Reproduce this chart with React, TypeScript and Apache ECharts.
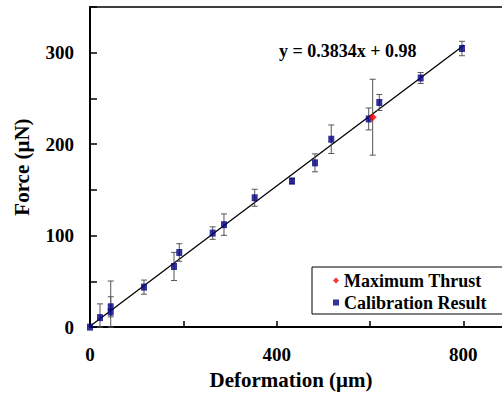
import React, { useEffect, useRef } from "react";
import * as echarts from "echarts";

// Calibration result points (Deformation µm, Force µN, error ±µN)
const calibX = [0, 21.4, 44.4, 44.4, 115.7, 180, 191.3, 262.9, 287.1, 352.9, 432.8, 482.1, 517, 597.2, 619.9, 708.6, 797.1];
const calibY = [0, 10.4, 22.2, 16.4, 43.7, 66.3, 81.6, 102.8, 112, 141.4, 159.7, 179.6, 205.4, 227.6, 245.6, 272.4, 304.6];
const calibErr = [0, 15, 11, 34, 7.7, 15.4, 9.6, 6.8, 11.7, 9.3, 3, 9.8, 15.6, 12, 8.8, 6, 7.9];

// Maximum thrust point
const thrustX = [605.7];
const thrustY = [229.5];
const thrustErr = [41.5];

// Fitted line endpoints (y = 0.3834x + 0.98)
const fitX = [0, 802];
const fitY = [0.98, 308.5];

const equationText = "y = 0.3834x + 0.98";

const FONT = "Liberation Serif, Times New Roman, serif";

export default function App() {
  const ref = useRef<HTMLDivElement>(null);

  useEffect(() => {
    if (!ref.current) return;
    const chart = echarts.init(ref.current, null, { renderer: "svg" });

    const errData: number[][] = [];
    calibX.forEach((x, i) => {
      if (calibErr[i] > 0) errData.push([x, Math.max(0, calibY[i] - calibErr[i]), calibY[i] + calibErr[i]]);
    });
    thrustX.forEach((x, i) => {
      errData.push([x, Math.max(0, thrustY[i] - thrustErr[i]), thrustY[i] + thrustErr[i]]);
    });

    chart.setOption({
      animation: false,
      backgroundColor: "#fff",
      textStyle: { fontFamily: FONT },
      grid: { left: 90, top: 7, height: 326, right: 10 },
      xAxis: [
        {
          type: "value",
          min: 0,
          max: 900,
          interval: 200,
          position: "bottom",
          name: "Deformation (μm)",
          nameLocation: "middle",
          nameGap: 38,
          nameTextStyle: {
            fontFamily: FONT,
            fontWeight: "bold",
            fontSize: 21,
            color: "#000",
            padding: [0, 18, 0, 0],
          },
          axisLine: { show: true, lineStyle: { color: "#000", width: 2 } },
          axisTick: { show: true, inside: true, length: 6, lineStyle: { color: "#000", width: 1.5 } },
          axisLabel: {
            fontFamily: FONT,
            fontWeight: "bold",
            fontSize: 19,
            color: "#000",
            margin: 18,
            formatter: (v: number) => (v % 400 === 0 ? String(v) : ""),
          },
          splitLine: { show: false },
        },
        {
          type: "value",
          min: 0,
          max: 900,
          position: "top",
          axisLine: { show: true, lineStyle: { color: "#000", width: 1.5 } },
          axisTick: { show: false },
          axisLabel: { show: false },
          splitLine: { show: false },
        },
      ],
      yAxis: {
        type: "value",
        min: 0,
        max: 350,
        interval: 50,
        name: "Force (μN)",
        nameLocation: "middle",
        nameGap: 58,
        nameTextStyle: {
          fontFamily: FONT,
          fontWeight: "bold",
          fontSize: 21,
          color: "#000",
        },
        axisLine: { show: true, lineStyle: { color: "#000", width: 2 } },
        axisTick: { show: true, inside: true, length: 7, lineStyle: { color: "#000", width: 1.5 } },
        axisLabel: {
          fontFamily: FONT,
          fontWeight: "bold",
          fontSize: 19,
          color: "#000",
          margin: 16,
          formatter: (v: number) => (v % 100 === 0 ? String(v) : ""),
        },
        splitLine: { show: false },
      },
      legend: {
        orient: "vertical",
        left: 312,
        top: 267,
        padding: [4, 16, 2, 21],
        itemGap: 3,
        itemWidth: 6,
        itemHeight: 6,
        borderColor: "#000",
        borderWidth: 1,
        backgroundColor: "#fff",
        textStyle: {
          fontFamily: FONT,
          fontWeight: "bold",
          fontSize: 18,
          lineHeight: 19,
          color: "#000",
        },
        data: [
          { name: "Maximum Thrust", icon: "diamond" },
          { name: "Calibration Result", icon: "rect" },
        ],
      },
      graphic: [
        {
          type: "text",
          left: 279,
          top: 42,
          style: {
            text: equationText,
            fontFamily: FONT,
            fontWeight: "bold",
            fontSize: 18,
            fill: "#000",
          },
        },
      ],
      series: [
        {
          type: "line",
          data: fitX.map((x, i) => [x, fitY[i]]),
          symbol: "none",
          lineStyle: { color: "#000", width: 1.3 },
          z: 2,
          silent: true,
        },
        {
          type: "custom",
          data: errData,
          encode: { x: 0, y: [1, 2] },
          z: 3,
          silent: true,
          renderItem: (params: any, api: any) => {
            const x = api.value(0);
            const lo = api.coord([x, api.value(1)]);
            const hi = api.coord([x, api.value(2)]);
            const h = 3;
            const st = { stroke: "#555", lineWidth: 1 };
            return {
              type: "group",
              children: [
                { type: "line", shape: { x1: lo[0], y1: lo[1], x2: hi[0], y2: hi[1] }, style: st },
                { type: "line", shape: { x1: hi[0] - h, y1: hi[1], x2: hi[0] + h, y2: hi[1] }, style: st },
                { type: "line", shape: { x1: lo[0] - h, y1: lo[1], x2: lo[0] + h, y2: lo[1] }, style: st },
              ],
            };
          },
        },
        {
          name: "Calibration Result",
          type: "scatter",
          data: calibX.map((x, i) => [x, calibY[i]]),
          symbol: "rect",
          symbolSize: [6, 7],
          itemStyle: { color: "#000080" },
          z: 4,
        },
        {
          name: "Maximum Thrust",
          type: "scatter",
          data: thrustX.map((x, i) => [x, thrustY[i]]),
          symbol: "diamond",
          symbolSize: 8,
          itemStyle: { color: "#ff0000" },
          z: 5,
        },
      ],
    });

    return () => chart.dispose();
  }, []);

  return (
    <div style={{ position: "absolute", left: 0, top: 0, width: 502, height: 395, overflow: "hidden", background: "#fff" }}>
      <div ref={ref} style={{ width: 520, height: 395 }} />
    </div>
  );
}
